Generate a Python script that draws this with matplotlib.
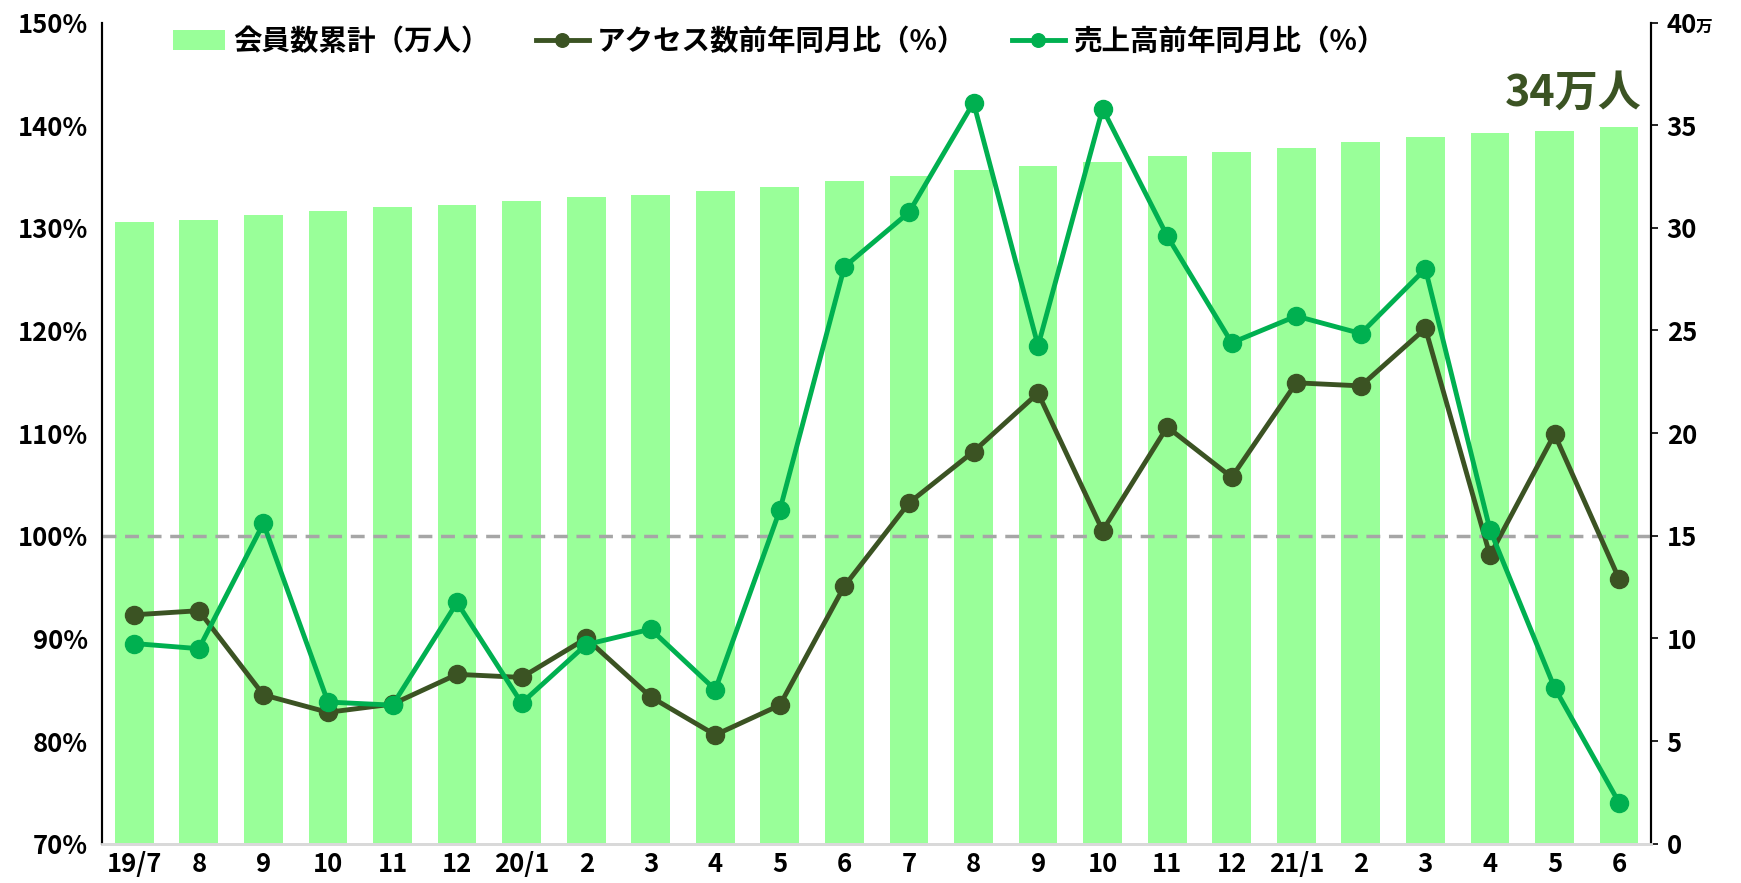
import numpy as np
import matplotlib.pyplot as plt

plt.rcParams['font.family'] = ['Noto Sans CJK JP', 'DejaVu Sans']
plt.rcParams['font.weight'] = 'bold'

# ---- data ----
months = ["19/7", "8", "9", "10", "11", "12", "20/1", "2", "3", "4", "5", "6",
          "7", "8", "9", "10", "11", "12", "21/1", "2", "3", "4", "5", "6"]

# 会員数累計（万人）
members = [30.3, 30.4, 30.6, 30.8, 31.0, 31.1, 31.3, 31.5, 31.6, 31.8, 32.0, 32.3,
           32.5, 32.8, 33.0, 33.2, 33.5, 33.7, 33.9, 34.2, 34.4, 34.6, 34.7, 34.9]

# アクセス数前年同月比（%）
access = [92.3, 92.7, 84.5, 82.8, 83.6, 86.5, 86.2, 90.0, 84.3, 80.6, 83.5, 95.1,
          103.2, 108.2, 113.9, 100.5, 110.6, 105.7, 114.9, 114.6, 120.2, 98.1, 109.9, 95.8]

# 売上高前年同月比（%）
sales = [89.5, 89.0, 101.2, 83.8, 83.5, 93.5, 83.7, 89.4, 90.9, 85.0, 102.5, 126.2,
         131.5, 142.2, 118.5, 141.6, 129.2, 118.8, 121.4, 119.7, 126.0, 100.6, 85.2, 74.0]

left_ticks = [70, 80, 90, 100, 110, 120, 130, 140, 150]
right_ticks = [0, 5, 10, 15, 20, 25, 30, 35, 40]

bar_color = "#99FF99"
dark_green = "#3B5323"
bright_green = "#00B050"

x = np.arange(len(months))

fig = plt.figure(figsize=(17.41, 8.83), dpi=100)
ax = fig.add_axes([0.0586, 0.0445, 0.8899, 0.930])
ax2 = ax.twinx()

# bars on the right axis, lines on the left axis (drawn above)
ax.set_zorder(ax2.get_zorder() + 1)
ax.patch.set_visible(False)

bars = ax2.bar(x, members, width=0.6, color=bar_color, label="会員数累計（万人）")
ax.axhline(100, color="#A6A6A6", linestyle=(0, (4, 2.5)), linewidth=2.5, zorder=1)
l1, = ax.plot(x, access, color=dark_green, linewidth=3.5, marker="o", markersize=13,
              label="アクセス数前年同月比（%）", zorder=3)
l2, = ax.plot(x, sales, color=bright_green, linewidth=3.5, marker="o", markersize=13,
              label="売上高前年同月比（%）", zorder=4)

ax.set_xlim(-0.5, len(months) - 0.5)
ax.set_ylim(70, 150)
ax2.set_ylim(0, 40)

ax.set_yticks(left_ticks)
ax.set_yticklabels([f"{v}%" for v in left_ticks])
ax2.set_yticks(right_ticks)
ax2.set_yticklabels([str(v) for v in right_ticks])
ax.set_xticks(x)
ax.set_xticklabels(months)

ax.tick_params(axis="y", length=0, labelsize=18.5, pad=10)
ax.tick_params(axis="x", length=0, labelsize=18.5, pad=5)
ax2.tick_params(axis="y", length=5, width=1.2, labelsize=18.5, pad=6, direction="out")

for a in (ax, ax2):
    a.spines["top"].set_visible(False)
    a.spines["bottom"].set_color("#D9D9D9")
    a.spines["bottom"].set_linewidth(2)
    a.spines["left"].set_linewidth(1.5)
    a.spines["right"].set_linewidth(1.5)

# small unit next to the top right tick
ax2.annotate("万", xy=(1, 40), xycoords=("axes fraction", "data"),
             xytext=(32, -3), textcoords="offset points", fontsize=12,
             fontweight="bold", va="center", ha="left", annotation_clip=False)

# label for the latest member count
ax2.text(23.35, 36.6, "34万人", color=dark_green, fontsize=31, fontweight="bold",
         ha="right", va="center")

leg = ax.legend([bars, l1, l2],
                ["会員数累計（万人）", "アクセス数前年同月比（%）", "売上高前年同月比（%）"],
                loc="upper left", bbox_to_anchor=(0.029, 1.025), ncol=3, frameon=False,
                fontsize=20.5, handlelength=1.85, columnspacing=1.6, handletextpad=0.3,
                markerscale=0.75)

fig.savefig("out.png", dpi=100)
